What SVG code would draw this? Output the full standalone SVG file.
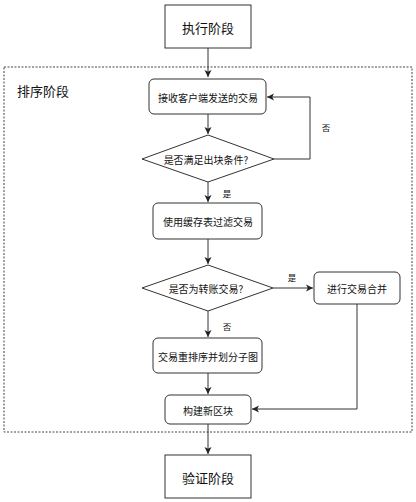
<svg xmlns="http://www.w3.org/2000/svg" width="416" height="502" viewBox="0 0 416 502">
<defs>
<marker id="arr" markerWidth="8" markerHeight="8" refX="7" refY="4" orient="auto" markerUnits="userSpaceOnUse">
<path d="M0,0.5 L7,4 L0,7.5 L1.8,4 Z" fill="#222"/>
</marker>
<style>
.box{fill:#fff;stroke:#333;stroke-width:1}
.ln{fill:none;stroke:#333;stroke-width:1}
.t{font-family:"Noto Sans CJK SC","Noto Sans",sans-serif;fill:#111;text-anchor:middle;dominant-baseline:central}
.big{font-size:13px}
.sm{font-size:10px}
.lbl{font-size:8.5px}
</style>
</defs>
<rect width="416" height="502" fill="#fff"/>
<g id="container">
<rect x="4" y="67" width="408" height="365" fill="none" stroke="#444" stroke-width="1" stroke-dasharray="2,1.5"/>
<text class="t big" x="43" y="90">排序阶段</text>
</g>
<g id="connectors">
<path class="ln" d="M208,48 V77" marker-end="url(#arr)"/>
<path class="ln" d="M208,114 V134" marker-end="url(#arr)"/>
<path class="ln" d="M274,159 H310 V97 H267" marker-end="url(#arr)"/>
<path class="ln" d="M208,182 V202" marker-end="url(#arr)"/>
<path class="ln" d="M208,239 V264" marker-end="url(#arr)"/>
<path class="ln" d="M273,288 H313" marker-end="url(#arr)"/>
<path class="ln" d="M208,311 V337" marker-end="url(#arr)"/>
<path class="ln" d="M357,304 V409 H252" marker-end="url(#arr)"/>
<path class="ln" d="M208,373 V394" marker-end="url(#arr)"/>
<path class="ln" d="M208,424 V454" marker-end="url(#arr)"/>
<text class="t lbl" x="326" y="127">否</text>
<text class="t lbl" x="227" y="193">是</text>
<text class="t lbl" x="292" y="277">是</text>
<text class="t lbl" x="227" y="326">否</text>
</g>
<g id="exec">
<rect class="box" x="165" y="5" width="86" height="43"/>
<text class="t big" x="208" y="27">执行阶段</text>
</g>
<g id="receive">
<rect class="box" x="149" y="79" width="117" height="35" rx="5"/>
<text class="t sm" x="208" y="97">接收客户端发送的交易</text>
</g>
<g id="cond1">
<polygon class="box" points="208,135 274,159 208,182 142,159"/>
<text class="t sm" x="206" y="159">是否满足出块条件?</text>
</g>
<g id="filter">
<rect class="box" x="153" y="203" width="109" height="36" rx="5"/>
<text class="t sm" x="208" y="221">使用缓存表过滤交易</text>
</g>
<g id="cond2">
<polygon class="box" points="208,265 273,288 208,311 142,288"/>
<text class="t sm" x="206" y="288">是否为转账交易?</text>
</g>
<g id="merge">
<rect class="box" x="314" y="272" width="86" height="32" rx="5"/>
<text class="t sm" x="357" y="288">进行交易合并</text>
</g>
<g id="reorder">
<rect class="box" x="153" y="338" width="109" height="35" rx="5"/>
<text class="t sm" x="208" y="356">交易重排序并划分子图</text>
</g>
<g id="build">
<rect class="box" x="165" y="395" width="86" height="29" rx="5"/>
<text class="t sm" x="208" y="410">构建新区块</text>
</g>
<g id="verify">
<rect class="box" x="165" y="455" width="86" height="43"/>
<text class="t big" x="208" y="477">验证阶段</text>
</g>
</svg>
